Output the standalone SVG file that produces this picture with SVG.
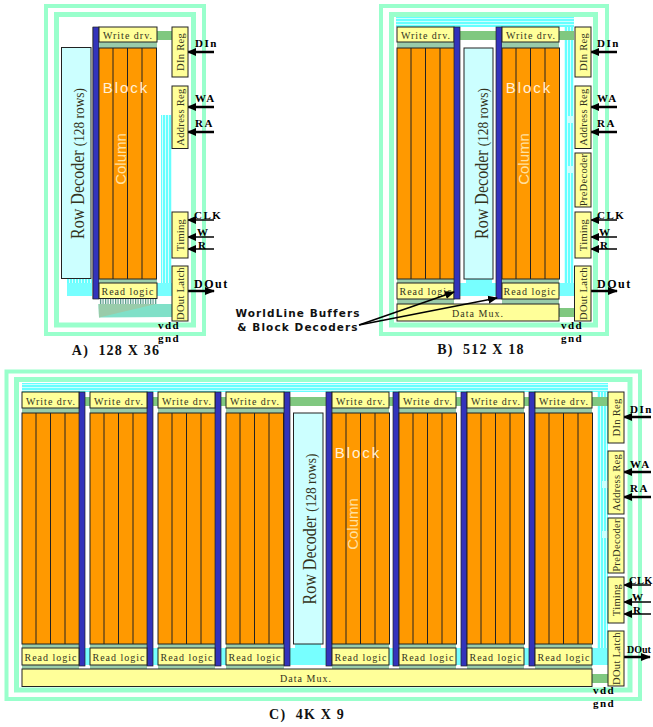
<svg xmlns="http://www.w3.org/2000/svg" width="653" height="727" viewBox="0 0 653 727">
<style>
text{font-family:"Liberation Serif","Times New Roman",serif;fill:#333320}
.ro{fill:none;stroke:#99ffcc;stroke-width:4}
.ri{fill:none;stroke:#99ffcc;stroke-width:5}
.y{fill:#ffff99;stroke:#222;stroke-width:1}
.bar{fill:#3333bb;stroke:#222;stroke-width:.7}
.g{fill:#80c880}
.s{fill:#99ccaa}
.c{fill:#77ffff}
.rd{fill:#ccffff;stroke:#222;stroke-width:1}
.t{font-size:10px;letter-spacing:1px;text-anchor:middle}
.v{font-size:10.5px;letter-spacing:.3px;text-anchor:middle}
.b{font-size:11px;font-weight:bold;letter-spacing:1.5px;fill:#000}
.p{font-size:12px;font-weight:bold;letter-spacing:1.5px;fill:#000}
.cap{font-size:14px;font-weight:bold;letter-spacing:1.2px;fill:#111;text-anchor:middle;white-space:pre}
.bl{font-family:"Liberation Sans",Arial,sans-serif;font-size:15px;letter-spacing:2px;fill:#fff0d8;text-anchor:middle}
.co{font-family:"Liberation Sans",Arial,sans-serif;font-size:15px;fill:#ffe0a0;text-anchor:middle}
.r1{font-size:18px;text-anchor:middle}
.r1 tspan{font-size:15px}
.wl{font-family:"DejaVu Sans",Verdana,sans-serif;font-size:10.5px;font-weight:bold;letter-spacing:1.1px;fill:#111;text-anchor:middle}
.a{stroke:#000;stroke-width:2.5;fill:none}
.a1{stroke:#000;stroke-width:1.5;fill:none}
</style>
<defs>
<marker id="al" markerUnits="userSpaceOnUse" markerWidth="9" markerHeight="9" refX="1" refY="4.5" orient="auto"><path d="M9 0.5L0 4.5L9 8.5z" fill="#000"/></marker>
<marker id="ar" markerUnits="userSpaceOnUse" markerWidth="10" markerHeight="9" refX="9" refY="4.5" orient="auto"><path d="M0 0.5L10 4.5L0 8.5z" fill="#000"/></marker>
<pattern id="ph" patternUnits="userSpaceOnUse" width="3" height="3"><rect width="3" height="3" fill="#66ffff"/><rect width="3" height="1" fill="#ccffff"/></pattern>
<pattern id="pv" patternUnits="userSpaceOnUse" width="3" height="3"><rect width="3" height="3" fill="#66ffff"/><rect width="1" height="3" fill="#d8ffff"/></pattern>
<pattern id="pd" patternUnits="userSpaceOnUse" width="2.5" height="3"><rect width="2.5" height="3" fill="#ffffff"/><rect width="1.2" height="3" fill="#559988"/></pattern>
<g id="arr">
<rect width="57.500" height="231" fill="#ff9900" stroke="#222" stroke-width="1"/>
<path d="M14 0V231M28.500 0V231M43 0V231" stroke="#222" stroke-width="1" fill="none"/>
</g>
</defs>

<g id="panel-a-frame"><rect class="ro" x="46" y="6" width="158" height="328"/><rect class="ri" x="56.500" y="14.500" width="137" height="310.500"/></g>
<g id="panel-b-frame"><rect class="ro" x="381" y="6" width="226" height="328"/><rect class="ri" x="391.500" y="14.500" width="204" height="310.500"/></g>
<g id="panel-c-frame"><rect class="ro" x="6.500" y="371.500" width="633.500" height="327.500"/><rect class="ri" x="16.500" y="379.500" width="613.500" height="310.500"/></g>

<g id="connectors">
<!-- panel A wires -->
<rect x="161" y="115" width="11" height="168" fill="url(#pv)"/>
<rect x="67" y="279" width="25" height="4" fill="url(#pv)"/>
<rect x="67" y="283" width="105" height="13" class="c"/>
<rect x="99" y="298" width="58" height="6" fill="url(#pd)"/>
<polygon points="98.500,304 172,304 172,317 99,317.500" fill="#80e0c8"/>
<polygon points="98.500,304 156,304 99,317.500" fill="#99ccaa"/>
<rect x="157" y="31" width="15" height="9" class="g"/>
<!-- panel B wires -->
<rect x="396" y="17" width="178" height="10" fill="url(#ph)"/>
<rect x="564" y="27" width="10" height="256" fill="url(#pv)"/>
<rect x="568" y="116" width="6" height="7" fill="#ccffff"/>
<rect x="568" y="166" width="6" height="7" fill="#ccffff"/>
<rect x="460" y="283" width="36" height="13" class="c"/>
<rect x="559" y="283" width="15" height="13" class="c"/>
<rect x="466" y="279" width="26" height="4" class="c"/>
<rect x="460" y="31" width="36" height="9" class="g"/>
<rect x="559" y="31" width="15" height="9" class="g"/>
<rect x="559" y="308" width="15" height="9" class="g"/>
<!-- panel C wires -->
<rect x="22" y="383" width="586" height="9" fill="url(#ph)"/>
<rect x="597" y="392" width="11" height="256" fill="url(#pv)"/>
<rect x="602" y="481" width="6" height="7" fill="#ccffff"/>
<rect x="602" y="531" width="6" height="7" fill="#ccffff"/>
<rect x="85" y="648" width="5" height="17" class="c"/>
<rect x="153" y="648" width="5" height="17" class="c"/>
<rect x="221" y="648" width="5" height="17" class="c"/>
<rect x="289" y="648" width="37" height="17" class="c"/>
<rect x="295" y="644" width="26" height="4" class="c"/>
<rect x="389" y="648" width="4" height="17" class="c"/>
<rect x="456" y="648" width="5" height="17" class="c"/>
<rect x="524" y="648" width="5" height="17" class="c"/>
<rect x="592" y="648" width="16" height="17" class="c"/>
<rect x="85" y="397" width="5" height="9" class="g"/>
<rect x="153" y="397" width="5" height="9" class="g"/>
<rect x="221" y="397" width="5" height="9" class="g"/>
<rect x="289" y="397" width="37" height="9" class="g"/>
<rect x="389" y="397" width="4" height="9" class="g"/>
<rect x="456" y="397" width="5" height="9" class="g"/>
<rect x="524" y="397" width="5" height="9" class="g"/>
<rect x="592" y="397" width="16" height="9" class="g"/>
<rect x="592" y="674" width="16" height="9" class="g"/>
<!-- I/O arrows A -->
<path class="a" marker-start="url(#al)" d="M188 52H214"/>
<path class="a" marker-start="url(#al)" d="M188 107H214"/>
<path class="a" marker-start="url(#al)" d="M188 132H214"/>
<path class="a1" marker-start="url(#al)" d="M188 220H214"/>
<path class="a1" marker-start="url(#al)" d="M188 237H214"/>
<path class="a1" marker-start="url(#al)" d="M188 249H214"/>
<path class="a" marker-end="url(#ar)" d="M188 291H214"/>
<!-- I/O arrows B -->
<path class="a" marker-start="url(#al)" d="M591 52H617"/>
<path class="a" marker-start="url(#al)" d="M591 107H617"/>
<path class="a" marker-start="url(#al)" d="M591 132H617"/>
<path class="a1" marker-start="url(#al)" d="M591 220H617"/>
<path class="a1" marker-start="url(#al)" d="M591 237H617"/>
<path class="a1" marker-start="url(#al)" d="M591 249H617"/>
<path class="a" marker-end="url(#ar)" d="M591 291H617"/>
<!-- I/O arrows C -->
<path class="a" marker-start="url(#al)" d="M624 417H651"/>
<path class="a" marker-start="url(#al)" d="M624 472H651"/>
<path class="a" marker-start="url(#al)" d="M624 497H651"/>
<path class="a1" marker-start="url(#al)" d="M624 585H651"/>
<path class="a1" marker-start="url(#al)" d="M624 602H651"/>
<path class="a1" marker-start="url(#al)" d="M624 614H651"/>
<path class="a" marker-end="url(#ar)" d="M624 657H650"/>
</g>

<!-- Panel A -->
<g id="a-row-decoder"><rect class="rd" x="61.500" y="47.500" width="29.500" height="231"/><text class="r1" textLength="151" lengthAdjust="spacingAndGlyphs" transform="translate(84,163.500) rotate(-90)">Row Decoder <tspan>(128 rows)</tspan></text></g>
<g id="a-block"><rect x="92" y="27" width="1.500" height="272" fill="#aaaaaa"/><rect class="bar" x="93" y="27" width="6" height="272"/><rect class="s" x="99" y="42" width="58" height="6"/><rect class="s" x="99" y="279" width="58" height="4"/><use href="#arr" x="99" y="48"/><text class="bl" x="126" y="93">Block</text><text class="co" transform="translate(126,159) rotate(-90)">Column</text></g>
<g id="a-write"><rect class="y" x="99" y="27" width="58" height="15"/><text class="t" x="128" y="39">Write drv.</text></g>
<g id="a-read"><rect class="y" x="99" y="283" width="58" height="15.500"/><text class="t" x="128" y="295">Read logic</text></g>
<g id="a-din"><rect class="y" x="172" y="27" width="16" height="50"/><text class="v" transform="translate(184,52) rotate(-90)">DIn Reg</text></g>
<g id="a-addr"><rect class="y" x="172" y="86" width="16" height="62.500"/><text class="v" transform="translate(184,117) rotate(-90)">Address Reg</text></g>
<g id="a-timing"><rect class="y" x="172" y="212" width="16" height="46"/><text class="v" transform="translate(184,235) rotate(-90)">Timing</text></g>
<g id="a-dout"><rect class="y" x="172" y="266" width="16" height="55"/><text class="v" transform="translate(184,293.500) rotate(-90)">DOut Latch</text></g>
<g id="a-labels">
<text class="b" x="195" y="47">DIn</text><text class="b" x="195" y="102">WA</text><text class="b" x="195" y="127">RA</text><text class="b" x="194" y="219">CLK</text><text class="b" x="197" y="236">W</text><text class="b" x="198" y="249">R</text><text class="p" x="194" y="288">DOut</text>
<text class="b" x="158" y="329">vdd</text><text class="b" x="158" y="342">gnd</text>
<text class="cap" x="116" y="355">A)  128 X 36</text>
</g>

<!-- Panel B -->
<g id="b-block-1"><rect class="s" x="397" y="42" width="57" height="6"/><rect class="s" x="397" y="279" width="57" height="4"/><rect class="s" x="397" y="299" width="57" height="5"/><use href="#arr" x="397" y="48"/></g>
<g id="b-write-1"><rect class="y" x="397" y="27" width="57" height="15"/><text class="t" x="426" y="39">Write drv.</text></g>
<g id="b-read-1"><rect class="y" x="397" y="283" width="57" height="16"/><text class="t" x="426" y="295">Read logic</text></g>
<g id="b-bar-1"><rect class="bar" x="454" y="27" width="6" height="272"/></g>
<g id="b-row-decoder"><rect class="rd" x="464" y="48" width="29" height="231"/><text class="r1" textLength="151" lengthAdjust="spacingAndGlyphs" transform="translate(488,163.500) rotate(-90)">Row Decoder <tspan>(128 rows)</tspan></text></g>
<g id="b-bar-2"><rect class="bar" x="496" y="27" width="6" height="272"/></g>
<g id="b-block-2"><rect class="s" x="502" y="42" width="57" height="6"/><rect class="s" x="502" y="279" width="57" height="4"/><rect class="s" x="502" y="299" width="57" height="5"/><use href="#arr" x="502" y="48"/><text class="bl" x="529" y="93">Block</text><text class="co" transform="translate(529,159) rotate(-90)">Column</text></g>
<g id="b-write-2"><rect class="y" x="502" y="27" width="57" height="15"/><text class="t" x="531" y="39">Write drv.</text></g>
<g id="b-read-2"><rect class="y" x="502" y="283" width="57" height="16"/><text class="t" x="530" y="295">Read logic</text></g>
<g id="b-mux"><rect class="y" x="397" y="304" width="162" height="17"/><text class="t" x="478" y="317">Data Mux.</text></g>
<g id="b-din"><rect class="y" x="575" y="27" width="16" height="50"/><text class="v" transform="translate(587,52) rotate(-90)">DIn Reg</text></g>
<g id="b-addr"><rect class="y" x="575" y="86" width="16" height="62.500"/><text class="v" transform="translate(587,117) rotate(-90)">Address Reg</text></g>
<g id="b-pre"><rect class="y" x="575" y="153" width="16" height="54"/><text class="v" transform="translate(587,180) rotate(-90)">PreDecoder</text></g>
<g id="b-timing"><rect class="y" x="575" y="212" width="16" height="46"/><text class="v" transform="translate(587,235) rotate(-90)">Timing</text></g>
<g id="b-dout"><rect class="y" x="574.500" y="266" width="16.500" height="55"/><text class="v" transform="translate(587,293.500) rotate(-90)">DOut Latch</text></g>
<g id="b-labels">
<text class="b" x="597" y="47">DIn</text><text class="b" x="597" y="102">WA</text><text class="b" x="597" y="127">RA</text><text class="b" x="597" y="219">CLK</text><text class="b" x="599" y="236">W</text><text class="b" x="600" y="249">R</text><text class="p" x="597" y="288">DOut</text>
<text class="b" x="561" y="329">vdd</text><text class="b" x="561" y="342">gnd</text>
<text class="cap" x="481" y="354">B)  512 X 18</text>
</g>
<g id="wordline-label">
<text class="wl" x="298" y="317">WorldLine Buffers</text><text class="wl" x="298" y="331">&amp; Block Decoders</text>
<path class="a1" marker-end="url(#ar)" d="M359 325L454 292"/>
<path class="a1" marker-end="url(#ar)" d="M359 325L497 298"/>
</g>

<!-- Panel C -->
<g id="c-block-1"><rect class="s" x="22" y="408" width="57" height="5"/><rect class="s" x="22" y="644" width="57" height="4"/><rect class="s" x="22" y="665" width="57" height="4"/><use href="#arr" x="22" y="413"/><rect class="bar" x="79" y="392" width="6" height="274"/><rect class="y" x="22" y="392" width="57" height="16"/><text class="t" x="51" y="405">Write drv.</text><rect class="y" x="22" y="648" width="57" height="17"/><text class="t" x="51" y="661">Read logic</text></g>
<g id="c-block-2"><rect class="s" x="90" y="408" width="57" height="5"/><rect class="s" x="90" y="644" width="57" height="4"/><rect class="s" x="90" y="665" width="57" height="4"/><use href="#arr" x="90" y="413"/><rect class="bar" x="147" y="392" width="6" height="274"/><rect class="y" x="90" y="392" width="57" height="16"/><text class="t" x="119" y="405">Write drv.</text><rect class="y" x="90" y="648" width="57" height="17"/><text class="t" x="119" y="661">Read logic</text></g>
<g id="c-block-3"><rect class="s" x="158" y="408" width="57" height="5"/><rect class="s" x="158" y="644" width="57" height="4"/><rect class="s" x="158" y="665" width="57" height="4"/><use href="#arr" x="158" y="413"/><rect class="bar" x="215" y="392" width="6" height="274"/><rect class="y" x="158" y="392" width="57" height="16"/><text class="t" x="187" y="405">Write drv.</text><rect class="y" x="158" y="648" width="57" height="17"/><text class="t" x="187" y="661">Read logic</text></g>
<g id="c-block-4"><rect class="s" x="226" y="408" width="58" height="5"/><rect class="s" x="226" y="644" width="58" height="4"/><rect class="s" x="226" y="665" width="58" height="4"/><use href="#arr" x="226" y="413"/><rect class="bar" x="284" y="392" width="6" height="274"/><rect class="y" x="226" y="392" width="58" height="16"/><text class="t" x="255" y="405">Write drv.</text><rect class="y" x="226" y="648" width="58" height="17"/><text class="t" x="255" y="661">Read logic</text></g>
<g id="c-row-decoder"><rect class="rd" x="293.500" y="413" width="29.500" height="231"/><text class="r1" textLength="151" lengthAdjust="spacingAndGlyphs" transform="translate(316,529) rotate(-90)">Row Decoder <tspan>(128 rows)</tspan></text></g>
<g id="c-block-5"><rect class="s" x="332" y="408" width="57" height="5"/><rect class="s" x="332" y="644" width="57" height="4"/><rect class="s" x="332" y="665" width="57" height="4"/><rect class="bar" x="326" y="392" width="6" height="274"/><use href="#arr" x="332" y="413"/><rect class="y" x="332" y="392" width="57" height="16"/><text class="t" x="361" y="405">Write drv.</text><rect class="y" x="332" y="648" width="57" height="17"/><text class="t" x="361" y="661">Read logic</text><text class="bl" x="358" y="458">Block</text><text class="co" transform="translate(358,524) rotate(-90)">Column</text></g>
<g id="c-block-6"><rect class="s" x="399" y="408" width="57" height="5"/><rect class="s" x="399" y="644" width="57" height="4"/><rect class="s" x="399" y="665" width="57" height="4"/><rect class="bar" x="393" y="392" width="6" height="274"/><use href="#arr" x="399" y="413"/><rect class="y" x="399" y="392" width="57" height="16"/><text class="t" x="428" y="405">Write drv.</text><rect class="y" x="399" y="648" width="57" height="17"/><text class="t" x="428" y="661">Read logic</text></g>
<g id="c-block-7"><rect class="s" x="467" y="408" width="57" height="5"/><rect class="s" x="467" y="644" width="57" height="4"/><rect class="s" x="467" y="665" width="57" height="4"/><rect class="bar" x="461" y="392" width="6" height="274"/><use href="#arr" x="467" y="413"/><rect class="y" x="467" y="392" width="57" height="16"/><text class="t" x="496" y="405">Write drv.</text><rect class="y" x="467" y="648" width="57" height="17"/><text class="t" x="496" y="661">Read logic</text></g>
<g id="c-block-8"><rect class="s" x="535" y="408" width="57" height="5"/><rect class="s" x="535" y="644" width="57" height="4"/><rect class="s" x="535" y="665" width="57" height="4"/><rect class="bar" x="529" y="392" width="6" height="274"/><use href="#arr" x="535" y="413"/><rect class="y" x="535" y="392" width="57" height="16"/><text class="t" x="564" y="405">Write drv.</text><rect class="y" x="535" y="648" width="57" height="17"/><text class="t" x="564" y="661">Read logic</text></g>
<g id="c-mux"><rect class="y" x="22" y="669" width="570" height="17.500"/><text class="t" x="306" y="682">Data Mux.</text></g>
<g id="c-din"><rect class="y" x="608" y="392" width="16" height="51"/><text class="v" transform="translate(620,417.500) rotate(-90)">DIn Reg</text></g>
<g id="c-addr"><rect class="y" x="608" y="451" width="16" height="63"/><text class="v" transform="translate(620,482.500) rotate(-90)">Address Reg</text></g>
<g id="c-pre"><rect class="y" x="608" y="518" width="16" height="55"/><text class="v" transform="translate(620,545.500) rotate(-90)">PreDecoder</text></g>
<g id="c-timing"><rect class="y" x="608" y="577" width="16" height="46"/><text class="v" transform="translate(620,600) rotate(-90)">Timing</text></g>
<g id="c-dout"><rect class="y" x="608" y="631" width="16" height="55"/><text class="v" transform="translate(620,658.500) rotate(-90)">DOut Latch</text></g>
<g id="c-labels">
<text class="b" x="630" y="413">DIn</text><text class="b" x="630" y="468">WA</text><text class="b" x="630" y="492">RA</text><text class="b" x="629" y="584" style="letter-spacing:.3px;font-size:10.5px">CLK</text><text class="b" x="632" y="601">W</text><text class="b" x="633" y="614">R</text><text class="b" x="627" y="653" style="letter-spacing:0;font-size:10px">DOut</text>
<text class="b" x="593" y="694">vdd</text><text class="b" x="593" y="707">gnd</text>
<text class="cap" x="307" y="719">C)  4K X 9</text>
</g>
</svg>
